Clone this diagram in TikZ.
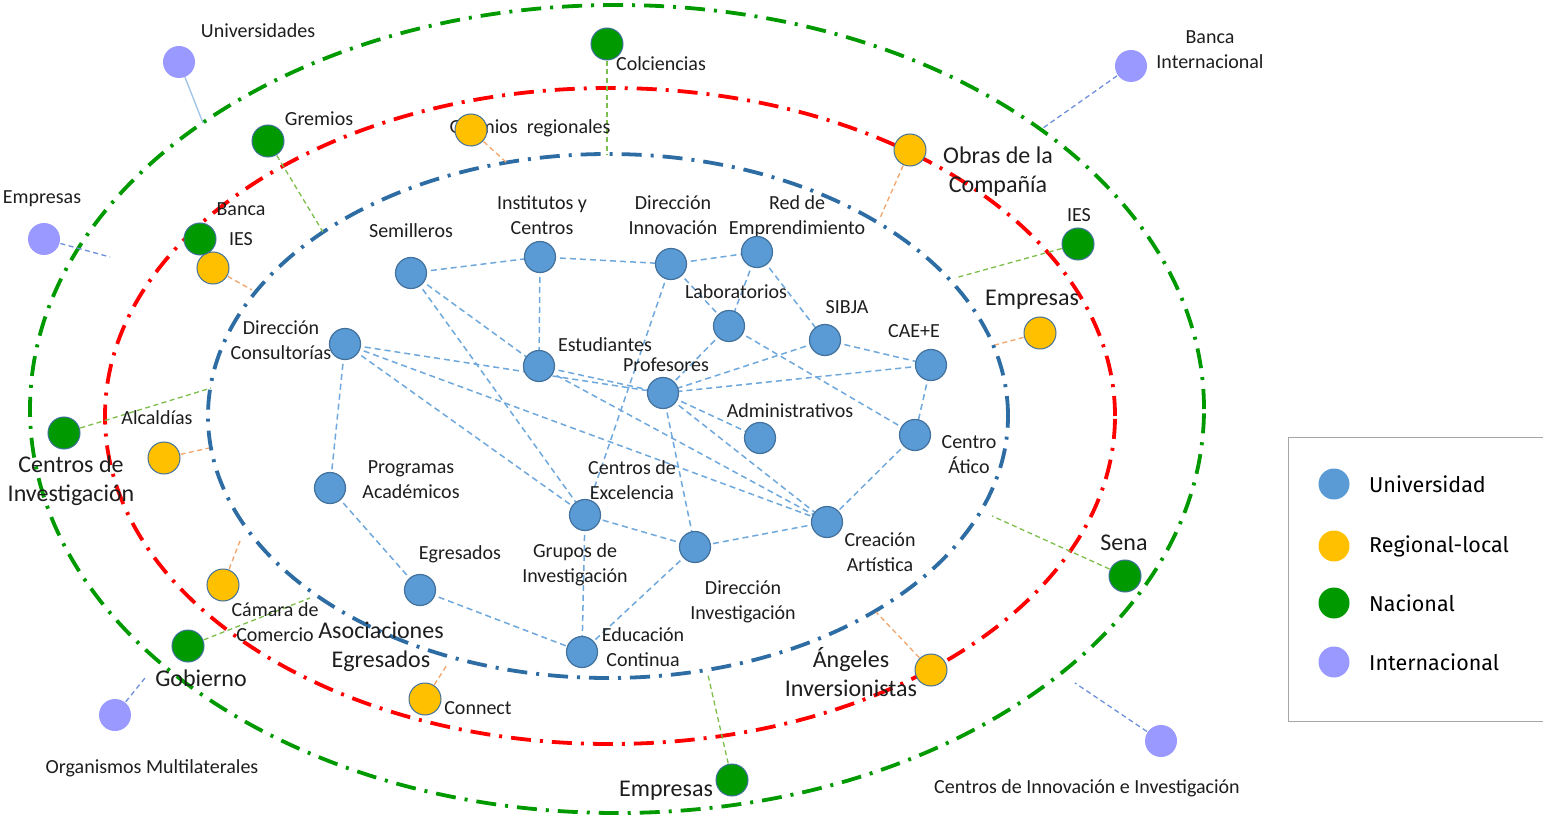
\documentclass[tikz,border=0pt]{standalone}
\usepackage{fontspec}
\setmainfont{Carlito}
\newfontfamily\legfont{Fira Sans}
\definecolor{uniF}{HTML}{5B9BD5}
\definecolor{uniB}{HTML}{41719C}
\definecolor{regF}{HTML}{FFC000}
\definecolor{natF}{HTML}{009900}
\definecolor{intF}{HTML}{9999FF}
\definecolor{ringB}{HTML}{2E6DA4}
\definecolor{ringR}{HTML}{FF0000}
\definecolor{ringG}{HTML}{009A00}
\definecolor{edgeB}{HTML}{6FA8DC}
\definecolor{conG}{HTML}{7DBE4A}
\definecolor{conO}{HTML}{F2A56B}
\definecolor{conI}{HTML}{6F8FDC}
\definecolor{conU}{HTML}{9DC3E6}
\definecolor{txt}{HTML}{1E1E1E}
\definecolor{legB}{HTML}{A6A6A6}
\tikzset{
  uni/.style={circle, fill=uniF, draw=uniB, line width=1.2pt, minimum size=31pt, inner sep=0pt},
  reg/.style={circle, fill=regF, draw=uniB, line width=1pt, minimum size=32pt, inner sep=0pt},
  nat/.style={circle, fill=natF, draw=uniB, line width=1pt, minimum size=32pt, inner sep=0pt},
  intl/.style={circle, fill=intF, draw=none, minimum size=32pt, inner sep=0pt},
  legdot/.style={circle, draw=none, minimum size=31pt, inner sep=0pt},
  lbl/.style={font=\fontsize{20}{25}\selectfont, text=txt, align=center, inner sep=0pt},
  big/.style={font=\fontsize{24}{29}\selectfont, text=txt, align=center, inner sep=0pt},
  legtxt/.style={font=\legfont\fontsize{21.5}{25}\selectfont, text=black, anchor=west, inner sep=0pt},
  link/.style={edgeB, line width=1.5pt, dash pattern=on 6pt off 4pt},
  ring/.style={line width=3.8pt, dash pattern=on 20pt off 9pt on 3pt off 9pt},
  cg/.style={conG, line width=1.3pt, dash pattern=on 5pt off 3.5pt},
  co/.style={conO, line width=1.3pt, dash pattern=on 5pt off 3.5pt},
  ci/.style={conI, line width=1.3pt, dash pattern=on 5pt off 3.5pt},
  cu/.style={conU, line width=1.3pt},
}
\begin{document}
\begin{tikzpicture}[x=1pt,y=-1pt]
\useasboundingbox (0,0) rectangle (1543,821);
\fill[white] (0,0) rectangle (1543,821);

% rings
\draw[ring, ringG] (617,409) ellipse [x radius=587pt, y radius=404pt];
\draw[ring, ringR] (610,416) ellipse [x radius=505pt, y radius=328pt];
\draw[ring, ringB] (608,416) ellipse [x radius=400pt, y radius=262pt];

% university nodes (positions)
\coordinate (sem) at (411,273);
\coordinate (inst) at (540,257);
\coordinate (dinn) at (671,264);
\coordinate (redE) at (757,252);
\coordinate (lab) at (729,326);
\coordinate (sib) at (825,340);
\coordinate (cae) at (931,365);
\coordinate (dcon) at (345,344);
\coordinate (est) at (539,366);
\coordinate (prof) at (663,393);
\coordinate (adm) at (760,438);
\coordinate (cat) at (915,435);
\coordinate (prog) at (330,488);
\coordinate (grp) at (585,515);
\coordinate (dinv) at (695,547);
\coordinate (cre) at (827,522);
\coordinate (egr) at (420,590);
\coordinate (edu) at (582,652);

% outer node positions
\coordinate (univ) at (179,62);
\coordinate (empL) at (44,239);
\coordinate (grem) at (268,141);
\coordinate (gremreg) at (471,130);
\coordinate (col) at (607,44);
\coordinate (bancaN) at (200,239);
\coordinate (iesY) at (213,268);
\coordinate (obras) at (910,150);
\coordinate (bancaI) at (1131,66);
\coordinate (iesR) at (1078,244);
\coordinate (empR) at (1040,333);
\coordinate (alc) at (164,458);
\coordinate (cinv) at (64,433);
\coordinate (cam) at (223,585);
\coordinate (gob) at (188,646);
\coordinate (org) at (115,715);
\coordinate (conn) at (425,699);
\coordinate (empB) at (732,780);
\coordinate (ang) at (931,670);
\coordinate (sena) at (1125,576);
\coordinate (cii) at (1161,741);

% connector free ends
\coordinate (eUniv) at (203,123);
\coordinate (eEmpL) at (110,257);
\coordinate (eGrem) at (323,232);
\coordinate (eGremreg) at (507,163);
\coordinate (eCol) at (607,155);
\coordinate (eIesY) at (252,290);
\coordinate (eObras) at (880,218);
\coordinate (eBancaI) at (1043,128);
\coordinate (eIesR) at (955,278);
\coordinate (eEmpR) at (995,345);
\coordinate (eAlc) at (209,448);
\coordinate (eCinv) at (211,388);
\coordinate (eCam) at (240,541);
\coordinate (eGob) at (310,598);
\coordinate (eOrg) at (145,678);
\coordinate (eConn) at (447,665);
\coordinate (eEmpB) at (708,675);
\coordinate (eAng) at (876,612);
\coordinate (eSena) at (992,516);
\coordinate (eCii) at (1075,683);

% connectors
\draw[cu] (univ) -- (eUniv);
\draw[ci] (empL) -- (eEmpL);
\draw[cg] (grem) -- (eGrem);
\draw[co] (gremreg) -- (eGremreg);
\draw[cg] (col) -- (eCol);
\draw[co] (iesY) -- (eIesY);
\draw[co] (obras) -- (eObras);
\draw[ci] (bancaI) -- (eBancaI);
\draw[cg] (iesR) -- (eIesR);
\draw[co] (empR) -- (eEmpR);
\draw[co] (alc) -- (eAlc);
\draw[cg] (cinv) -- (eCinv);
\draw[co] (cam) -- (eCam);
\draw[cg] (gob) -- (eGob);
\draw[ci] (org) -- (eOrg);
\draw[co] (conn) -- (eConn);
\draw[cg] (empB) -- (eEmpB);
\draw[co] (ang) -- (eAng);
\draw[cg] (sena) -- (eSena);
\draw[ci] (cii) -- (eCii);

% university links
\draw[link] (sem) -- (inst);
\draw[link] (inst) -- (dinn);
\draw[link] (dinn) -- (redE);
\draw[link] (inst) -- (est);
\draw[link] (sem) -- (est);
\draw[link] (sem) -- (grp);
\draw[link] (dcon) -- (prog);
\draw[link] (dcon) -- (grp);
\draw[link] (dcon) -- (prof);
\draw[link] (dcon) -- (cre);
\draw[link] (est) -- (prof);
\draw[link] (est) -- (cre);
\draw[link] (dinn) -- (grp);
\draw[link] (dinn) -- (lab);
\draw[link] (redE) -- (lab);
\draw[link] (redE) -- (sib);
\draw[link] (lab) -- (prof);
\draw[link] (lab) -- (cat);
\draw[link] (sib) -- (prof);
\draw[link] (sib) -- (cae);
\draw[link] (cae) -- (prof);
\draw[link] (cae) -- (cat);
\draw[link] (prof) -- (adm);
\draw[link] (prof) -- (cre);
\draw[link] (prof) -- (dinv);
\draw[link] (cat) -- (cre);
\draw[link] (cre) -- (dinv);
\draw[link] (dinv) -- (grp);
\draw[link] (dinv) -- (edu);
\draw[link] (grp) -- (edu);
\draw[link] (prog) -- (egr);
\draw[link] (egr) -- (edu);

% labels
\node[lbl] (lSem) at (411,231) {Semilleros};
\node[lbl] (lInst) at (542,215) {Institutos y\\Centros};
\node[lbl] (lDinn) at (673,215) {Dirección\\Innovación};
\node[lbl] (lRed) at (797,217) {Red de\\Emprendimiento};
\node[lbl] (lLab) at (736,292) {Laboratorios};
\node[lbl] (lSib) at (847,307) {SIBJA};
\node[lbl] (lCae) at (914,331) {CAE+E};
\node[lbl] (lDcon) at (281,340) {Dirección\\Consultorías};
\node[lbl] (lEst) at (605,345) {Estudiantes};
\node[lbl] (lProf) at (666,365) {Profesores};
\node[lbl] (lAdm) at (790,411) {Administrativos};
\node[lbl] (lCat) at (969,455) {Centro\\Ático};
\node[lbl] (lProg) at (411,480) {Programas\\Académicos};
\node[lbl] (lExc) at (632,480) {Centros de\\Excelencia};
\node[lbl] (lGrp) at (575,565) {Grupos de\\Investigación};
\node[lbl] (lDinv) at (743,602) {Dirección\\Investigación};
\node[lbl] (lCre) at (880,552) {Creación\\Artística};
\node[lbl] (lEgr) at (460,554) {Egresados};
\node[lbl] (lEdu) at (643,647) {Educación\\Continua};

\node[lbl] (lUniv) at (258,31) {Universidades};
\node[lbl] (lEmpL) at (42,199) {Empresas};
\node[lbl] (lGrem) at (319,119) {Gremios};
\node[lbl] (lGremreg) at (530,128) {Gremios~~regionales};
\node[lbl] (lCol) at (661,64) {Colciencias};
\node[lbl] (lBanca) at (241,209) {Banca};
\node[lbl] (lIesY) at (241,239) {IES};
\node[big] (lObras) at (998,172) {Obras de la\\Compañía};
\node[lbl] (lBancaI) at (1210,50) {Banca\\Internacional};
\node[lbl] (lIesR) at (1079,215) {IES};
\node[big] (lEmpR) at (1032,300) {Empresas};
\node[lbl] (lAlc) at (157,418) {Alcaldías};
\node[big] (lCinv) at (71,481) {Centros de\\Investigación};
\node[lbl] (lCam) at (275,622) {Cámara de\\Comercio};
\node[big] (lGob) at (201,678) {Gobierno};
\node[lbl] (lOrg) at (152,768) {Organismos Multilaterales};
\node[big] (lAsoc) at (381,647) {Asociaciones\\Egresados};
\node[lbl] (lConn) at (478,708) {Connect};
\node[big] (lEmpB) at (666,791) {Empresas};
\node[big] (lAng) at (851,672) {Ángeles\\Inversionistas};
\node[big] (lSena) at (1124,543) {Sena};
\node[lbl] (lCii) at (1087,788) {Centros de Innovación e Investigación};

% nodes
\foreach \n in {sem,inst,dinn,redE,lab,sib,cae,dcon,est,prof,adm,cat,prog,grp,dinv,cre,egr,edu}
  \node[uni] (n-\n) at (\n) {};
\foreach \n in {gremreg,iesY,obras,empR,alc,cam,conn,ang}
  \node[reg] (n-\n) at (\n) {};
\foreach \n in {grem,col,bancaN,iesR,cinv,gob,empB,sena}
  \node[nat] (n-\n) at (\n) {};
\foreach \n in {univ,empL,bancaI,org,cii}
  \node[intl] (n-\n) at (\n) {};

% legend
\draw[legB, line width=1pt] (1288,437) rectangle (1550,721);
\node[legdot, fill=uniF] (d1) at (1334,484) {};
\node[legdot, fill=regF] (d2) at (1334,546) {};
\node[legdot, fill=natF] (d3) at (1334,603) {};
\node[legdot, fill=intF] (d4) at (1334,662) {};
\node[legtxt] (t1) at (1369,484) {Universidad};
\node[legtxt] (t2) at (1369,546) {Regional-local};
\node[legtxt] (t3) at (1369,603) {Nacional};
\node[legtxt] (t4) at (1369,662) {Internacional};
\end{tikzpicture}
\end{document}
